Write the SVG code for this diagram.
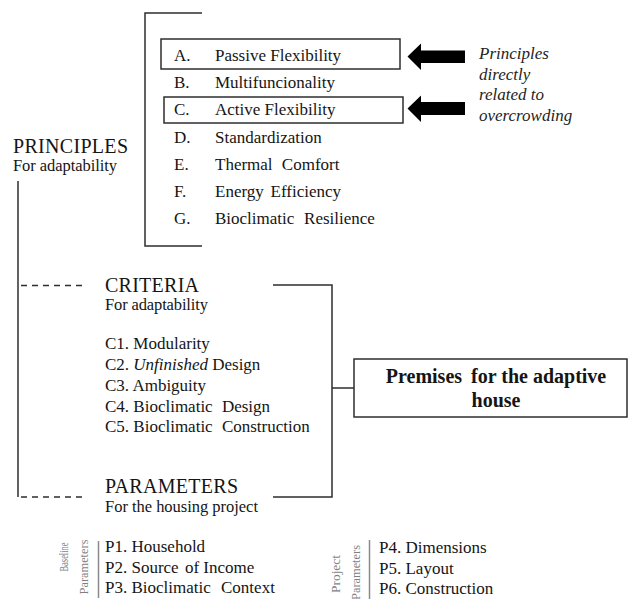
<svg xmlns="http://www.w3.org/2000/svg" width="629" height="599" viewBox="0 0 629 599">
  <style>
    text { font-family: "Liberation Serif", "Times New Roman", serif; fill: #151515; }
    .head { font-size: 20px; }
    .sub { font-size: 16.5px; }
    .item { font-size: 17px; }
    .note { font-size: 17px; font-style: italic; fill: #242424; }
    .side { font-size: 12px; fill: #7f7f7f; }
    .title { font-size: 20px; font-weight: bold; }
    .line { fill: none; stroke: #2e2e2e; stroke-width: 1.5; }
    .dash { fill: none; stroke: #2e2e2e; stroke-width: 1.5; stroke-dasharray: 6 5; }
    .gray { fill: none; stroke: #8a8a8a; stroke-width: 1.5; }
    .box { fill: none; stroke: #2e2e2e; stroke-width: 1.5; }
    .arrow { fill: #000; }
  </style>

  <!-- connectors -->
  <g id="connectors">
    <!-- spine from PRINCIPLES down to PARAMETERS -->
    <path class="line" d="M18 181 V497"/>
    <path class="dash" d="M21 285.5 H84"/>
    <path class="dash" d="M21 497 H84"/>
    <!-- bracket around the principle list -->
    <path class="line" d="M202 13 H145 V246 H202"/>
    <!-- bracket joining criteria and parameters -->
    <path class="line" d="M273 285 H332 V497 H273"/>
    <path class="line" d="M332 388 H354"/>
    <!-- pointers to the principles tied to overcrowding -->
    <path class="arrow" d="M407.5 56.5 L421 43.5 V50.5 H465 V63 H421 V70 Z"/>
    <path class="arrow" d="M407.5 108.5 L421 95.5 V102 H465 V115 H421 V122 Z"/>
  </g>

  <g id="principles">
    <text class="head" x="13" y="153" textLength="115">PRINCIPLES</text>
    <text class="sub" x="13" y="170.5" textLength="104">For adaptability</text>
  </g>

  <g id="principle-list">
    <rect class="box" x="161" y="39" width="239" height="30"/>
    <rect class="box" x="164" y="97" width="239" height="26"/>
    <text class="item" x="174" y="60.5">A.</text>
    <text class="item" x="215" y="60.5">Passive Flexibility</text>
    <text class="item" x="174" y="88">B.</text>
    <text class="item" x="215" y="88">Multifuncionality</text>
    <text class="item" x="174" y="115">C.</text>
    <text class="item" x="215" y="115">Active Flexibility</text>
    <text class="item" x="174" y="142.5">D.</text>
    <text class="item" x="215" y="142.5">Standardization</text>
    <text class="item" x="174" y="170">E.</text>
    <text class="item" x="215" y="170" word-spacing="5">Thermal Comfort</text>
    <text class="item" x="174" y="197">F.</text>
    <text class="item" x="215" y="197" word-spacing="2.5">Energy Efficiency</text>
    <text class="item" x="174" y="224">G.</text>
    <text class="item" x="215" y="224" word-spacing="5.5">Bioclimatic Resilience</text>
  </g>

  <g id="overcrowding-note">
    <text class="note" x="479" y="59">Principles</text>
    <text class="note" x="479" y="79.5">directly</text>
    <text class="note" x="479" y="100">related to</text>
    <text class="note" x="479" y="120.5">overcrowding</text>
  </g>

  <g id="criteria">
    <text class="head" x="105" y="292" textLength="94">CRITERIA</text>
    <text class="sub" x="105" y="310" textLength="103">For adaptability</text>
    <text class="item" x="105" y="349">C1. Modularity</text>
    <text class="item" x="105" y="370">C2. <tspan font-style="italic">Unfinished</tspan> Design</text>
    <text class="item" x="105" y="391">C3. Ambiguity</text>
    <text class="item" x="105" y="411.5">C4. Bioclimatic <tspan dx="5">Design</tspan></text>
    <text class="item" x="105" y="432">C5. Bioclimatic <tspan dx="5">Construction</tspan></text>
  </g>

  <g id="premises">
    <rect class="box" x="354" y="359" width="273" height="58"/>
    <text class="title" x="496" y="383" text-anchor="middle">Premises <tspan dx="4">for the adaptive</tspan></text>
    <text class="title" x="496" y="407" text-anchor="middle">house</text>
  </g>

  <g id="parameters">
    <text class="head" x="105" y="493" textLength="133">PARAMETERS</text>
    <text class="sub" x="105" y="511.5" textLength="153">For the housing project</text>
  </g>

  <g id="baseline-parameters">
    <text class="side" transform="translate(68 557) rotate(-90)" text-anchor="middle" textLength="29" lengthAdjust="spacingAndGlyphs">Baseline</text>
    <text class="side" transform="translate(88 567) rotate(-90)" text-anchor="middle" textLength="55" lengthAdjust="spacingAndGlyphs">Parameters</text>
    <path class="gray" d="M98.5 541 V598"/>
    <text class="item" x="105" y="552">P1. Household</text>
    <text class="item" x="105" y="572.5">P2. Source <tspan dx="2">of Income</tspan></text>
    <text class="item" x="105" y="593">P3. Bioclimatic <tspan dx="6">Context</tspan></text>
  </g>

  <g id="project-parameters">
    <text class="side" transform="translate(340 574) rotate(-90)" text-anchor="middle" textLength="38" lengthAdjust="spacingAndGlyphs">Project</text>
    <text class="side" transform="translate(360 572.5) rotate(-90)" text-anchor="middle" textLength="55" lengthAdjust="spacingAndGlyphs">Parameters</text>
    <path class="gray" d="M369.5 540 V599"/>
    <text class="item" x="379" y="553">P4. Dimensions</text>
    <text class="item" x="379" y="573.5">P5. Layout</text>
    <text class="item" x="379" y="594">P6. Construction</text>
  </g>
</svg>
